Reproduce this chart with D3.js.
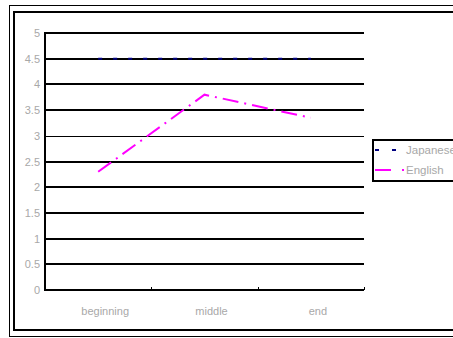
<!DOCTYPE html>
<html>
<head>
<meta charset="utf-8">
<script src="https://cdn.jsdelivr.net/npm/d3@7"></script>
<style>
  body { margin: 0; background: #fff; }
  text { font-family: "Liberation Sans", Arial, sans-serif; }
</style>
</head>
<body>
<svg id="chart" width="453" height="338"></svg>
<script>
const categories = ["beginning", "middle", "end"];
const japanese = [4.5, 4.5, 4.5];
const english = [2.3, 3.8, 3.35];
const yTicks = [0, 0.5, 1, 1.5, 2, 2.5, 3, 3.5, 4, 4.5, 5];

const svg = d3.select("#chart");

// frames
svg.append("rect")
  .attr("x", 9.5).attr("y", 5.5)
  .attr("width", 460).attr("height", 331)
  .attr("fill", "none").attr("stroke", "#000").attr("stroke-width", 1);
svg.append("rect")
  .attr("x", 14).attr("y", 12)
  .attr("width", 460).attr("height", 318)
  .attr("fill", "none").attr("stroke", "#000").attr("stroke-width", 2);

const x = d3.scaleBand().domain(categories).range([45, 364]);
const y = d3.scaleLinear().domain([0, 5]).range([290, 33]);

// gridlines
svg.append("g")
  .selectAll("line")
  .data(yTicks)
  .enter()
  .append("line")
  .attr("x1", 45).attr("x2", 364)
  .attr("y1", (d) => Math.round(y(d)) + (d === 3 ? 0.5 : 0))
  .attr("y2", (d) => Math.round(y(d)) + (d === 3 ? 0.5 : 0))
  .attr("stroke", "#000")
  .attr("stroke-width", (d) => (d === 3 ? 1 : 2));

// left axis line
svg.append("line")
  .attr("x1", 45).attr("x2", 45)
  .attr("y1", Math.round(y(5)) - 1).attr("y2", Math.round(y(0)) + 1)
  .attr("stroke", "#000").attr("stroke-width", 2);

// x category ticks (pointing up)
svg.append("g")
  .selectAll("line")
  .data(categories)
  .enter()
  .append("line")
  .attr("x1", (d) => Math.round(x(d) + x.bandwidth()) + 0.5)
  .attr("x2", (d) => Math.round(x(d) + x.bandwidth()) + 0.5)
  .attr("y1", y(0) - 3).attr("y2", y(0))
  .attr("stroke", "#000").attr("stroke-width", 1);

// y labels
svg.append("g")
  .selectAll("text")
  .data(yTicks)
  .enter()
  .append("text")
  .attr("x", 40)
  .attr("y", (d) => y(d) + 4)
  .attr("text-anchor", "end")
  .attr("font-size", 11)
  .attr("fill", "#a8a8a8")
  .text((d) => d);

// x labels
svg.append("g")
  .selectAll("text")
  .data(categories)
  .enter()
  .append("text")
  .attr("x", (d) => x(d) + x.bandwidth() / 2 + 7)
  .attr("y", 315)
  .attr("text-anchor", "middle")
  .attr("font-size", 11)
  .attr("fill", "#a8a8a8")
  .text((d) => d);

const line = d3.line()
  .x((d, i) => x(categories[i]) + x.bandwidth() / 2)
  .y((d) => y(d));

svg.append("path")
  .datum(japanese)
  .attr("d", line)
  .attr("fill", "none")
  .attr("stroke", "#000080")
  .attr("stroke-width", 2)
  .attr("stroke-dasharray", "4,11");

svg.append("path")
  .datum(english)
  .attr("d", line)
  .attr("fill", "none")
  .attr("stroke", "#ff00ff")
  .attr("stroke-width", 2)
  .attr("stroke-dasharray", "16,6,2,6");

// legend
const legend = svg.append("g").attr("transform", "translate(372, 139)");
legend.append("rect")
  .attr("x", 1).attr("y", 1)
  .attr("width", 90).attr("height", 41)
  .attr("fill", "#fff").attr("stroke", "#000").attr("stroke-width", 2);

const items = [
  { name: "Japanese", color: "#000080", dash: "4,13", y: 11 },
  { name: "English", color: "#ff00ff", dash: "16,11,2,20", y: 31 }
];
items.forEach((d) => {
  legend.append("line")
    .attr("x1", 3).attr("x2", 33)
    .attr("y1", d.y).attr("y2", d.y)
    .attr("stroke", d.color).attr("stroke-width", 2)
    .attr("stroke-dasharray", d.dash);
  legend.append("text")
    .attr("x", 34).attr("y", d.y + 4)
    .attr("font-size", 11.5)
    .attr("fill", "#a8a8a8")
    .text(d.name);
});
</script>
</body>
</html>
